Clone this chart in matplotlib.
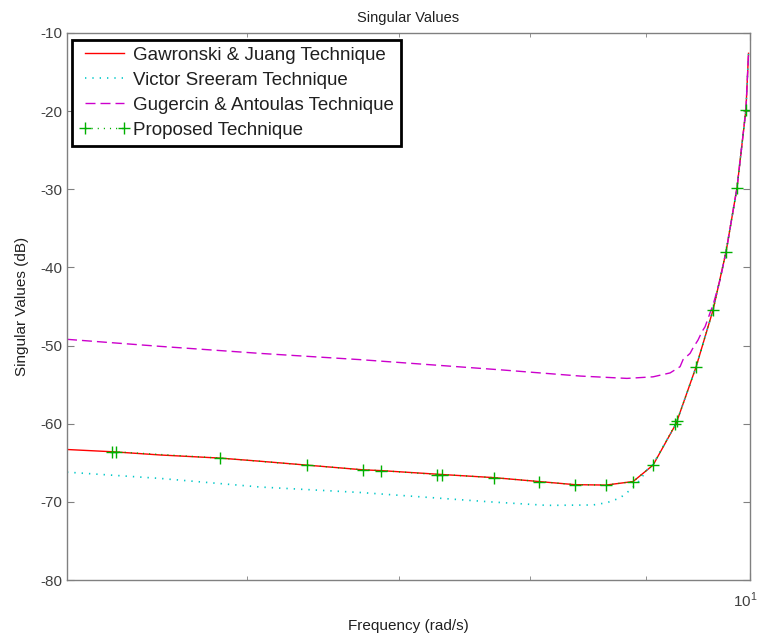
import matplotlib
matplotlib.use("Agg")
import matplotlib.pyplot as plt
from matplotlib.ticker import LogLocator, NullFormatter, FixedLocator, FixedFormatter
from matplotlib.transforms import ScaledTranslation

plt.rcParams['font.family'] = ['Liberation Sans', 'DejaVu Sans']
plt.rcParams['mathtext.fontset'] = 'custom'
plt.rcParams['mathtext.rm'] = 'Liberation Sans'
plt.rcParams['axes.unicode_minus'] = False

# Gawronski & Juang technique
freq_gj = [5.000, 5.245, 5.495, 5.840, 6.082, 6.379, 6.752, 6.877, 7.316, 7.712,
           8.072, 8.373, 8.641, 8.881, 9.063, 9.277, 9.467, 9.632, 9.760, 9.869,
           9.959, 9.985]
db_gj = [-63.3, -63.6, -64.0, -64.4, -64.8, -65.3, -65.9, -66.0, -66.5, -66.9,
         -67.4, -67.8, -67.85, -67.4, -65.3, -60.0, -52.75, -45.45, -38.0, -29.8,
         -19.8, -12.6]

# Victor Sreeram technique
freq_vs = [5.000, 5.495, 6.082, 6.732, 7.681, 8.138, 8.527, 8.650, 8.764, 8.854,
           8.944, 9.008, 9.063, 9.277, 9.467, 9.632, 9.760, 9.869, 9.959, 9.985]
db_vs = [-66.2, -67.0, -68.1, -68.8, -70.0, -70.45, -70.4, -70.1, -69.5, -68.5,
         -67.2, -65.9, -65.2, -60.0, -52.75, -45.45, -38.0, -29.8, -19.8, -12.6]

# Gugercin & Antoulas technique
freq_ga = [5.000, 5.495, 6.082, 6.732, 7.760, 8.416, 8.826, 9.063, 9.221, 9.315,
           9.343, 9.410, 9.438, 9.486, 9.525, 9.554, 9.603, 9.632, 9.701, 9.760,
           9.869, 9.959, 9.985]
db_ga = [-49.2, -50.1, -51.0, -51.8, -53.1, -53.9, -54.2, -54.0, -53.5, -52.7,
         -51.8, -51.0, -50.3, -49.3, -48.2, -47.6, -45.8, -44.8, -41.6, -38.0,
         -29.8, -19.8, -12.6]

# Proposed technique
freq_pr = [5.236, 5.255, 5.840, 6.379, 6.752, 6.877, 7.279, 7.316, 7.712, 8.072,
           8.373, 8.641, 8.881, 9.063, 9.270, 9.285, 9.467, 9.632, 9.760, 9.869,
           9.959]
db_pr = [-63.6, -63.6, -64.4, -65.3, -65.9, -66.0, -66.5, -66.5, -66.9, -67.4,
         -67.8, -67.85, -67.4, -65.3, -60.1, -59.7, -52.75, -45.45, -38.0, -29.8,
         -19.8]

labels = ['Gawronski & Juang Technique', 'Victor Sreeram Technique',
          'Gugercin & Antoulas Technique', 'Proposed Technique']
y_ticks = [-80, -70, -60, -50, -40, -30, -20, -10]

fig = plt.figure(figsize=(7.6, 6.38), dpi=100)
ax = fig.add_axes([67 / 760, 1 - 580 / 638, 683 / 760, 547 / 638])

ax.plot(freq_gj, db_gj, color='#ff0000', lw=1.0, label=labels[0])
ax.plot(freq_vs, db_vs, color='#00c8c8', lw=1.2, linestyle=(0, (0.8, 3.6)),
        label=labels[1])
ax.plot(freq_ga, db_ga, color='#cc00cc', lw=1.0, linestyle=(0, (7.2, 3.6)),
        label=labels[2])
ax.plot(freq_pr, db_pr, color='#00b000', lw=1.0, linestyle=(0, (0.8, 3.6)),
        marker='+', markersize=9, markeredgewidth=1.0, label=labels[3])

ax.set_xscale('log')
ax.set_xlim(5, 10)
ax.set_ylim(-80, -10)
ax.xaxis.set_major_locator(FixedLocator([10]))
ax.xaxis.set_major_formatter(FixedFormatter([r'$10^1$']))
ax.xaxis.set_minor_locator(LogLocator(base=10, subs=[2, 3, 4, 5, 6, 7, 8, 9]))
ax.xaxis.set_minor_formatter(NullFormatter())
ax.set_yticks(y_ticks)

axis_gray = '#808080'
for sp in ax.spines.values():
    sp.set_color(axis_gray)
    sp.set_linewidth(1.0)
ax.tick_params(which='both', direction='in', top=True, right=True,
               color=axis_gray, labelcolor='#404040', labelsize=11)
ax.tick_params(which='major', length=5)
ax.tick_params(which='minor', length=3)
ax.tick_params(axis='x', which='major', pad=8)

# nudge the decade label left so it stays inside the figure
for lbl in ax.get_xticklabels():
    lbl.set_transform(lbl.get_transform() + ScaledTranslation(-5 / 100, 0, fig.dpi_scale_trans))

ax.set_title('Singular Values', fontsize=10.5, color='#202020', pad=8)
ax.set_xlabel('Frequency (rad/s)', fontsize=11, color='#202020', labelpad=6)
ax.set_ylabel('Singular Values (dB)', fontsize=11, color='#202020', labelpad=8)

leg = ax.legend(loc='upper left', bbox_to_anchor=(0.007, 0.988), borderaxespad=0,
                fontsize=13.5, frameon=True, fancybox=False, framealpha=1,
                edgecolor='black', handlelength=2.7, handletextpad=0.2,
                labelspacing=0.42, borderpad=0.38, numpoints=2)
leg.get_frame().set_linewidth(2.0)
for t in leg.get_texts():
    t.set_color('#202020')

fig.savefig('out.png', dpi=100)
